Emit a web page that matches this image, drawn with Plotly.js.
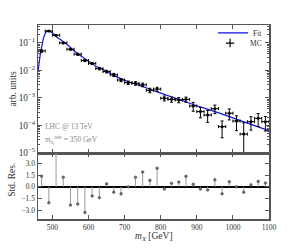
<!DOCTYPE html>
<html><head><meta charset="utf-8">
<script src="https://cdn.plot.ly/plotly-3.0.1.min.js"></script>
<style>html,body{margin:0;padding:0;background:#fff}#chart{width:300px;height:250px}</style>
</head><body><div id="chart"></div>
<script>
// ---- data ----
const binCenters = [470,490,510,530,550,570,590,610,630,650,670,690,710,730,750,770,790,810,830,850,870,890,910,930,950,970,990,1010,1030,1050,1070,1090];
const mcValues = [0.051,0.27,0.19,0.10,0.059,0.039,0.023,0.018,0.0117,0.0091,0.0069,0.0045,0.0036,0.0034,0.0030,0.0019,0.0021,0.00098,0.00089,0.00085,0.00089,0.00051,0.00032,0.00024,0.00041,0.000091,0.00028,0.000145,0.000049,0.000138,0.000182,0.000138];
const mcErrors = [0.005,0.012,0.010,0.006,0.004,0.003,0.002,0.0016,0.0012,0.001,0.0009,0.0006,0.0005,0.0005,0.00045,0.00035,0.00035,0.0002,0.00019,0.00018,0.00019,0.00018,0.00013,0.00011,0.00014,0.000055,0.00012,0.00008,0.000077,0.00007,0.00009,0.000075];
const binHalfWidth = 10;
const fitMass = [460,463,466,470,473,476,480,484,488,492,496,500,508,520,535,550,563,577,591,605,619,646,674,700,750,800,850,900,950,1000,1050,1100];
const fitValues = [0.009,0.018,0.036,0.07,0.11,0.16,0.22,0.265,0.28,0.27,0.25,0.23,0.18,0.138,0.10,0.068,0.048,0.035,0.026,0.0195,0.0146,0.0099,0.0062,0.0044,0.0026,0.0015,0.00089,0.00052,0.00032,0.00019,0.00011,0.000065];
const residuals = [1.35,-2.04,6.0,1.22,-2.33,-2.2,-3.27,-1.18,-1.39,0.37,-0.69,-0.9,0.0,1.22,1.88,0.82,2.37,-0.29,0.45,0.61,1.35,0.33,-0.29,-0.41,0.9,-0.9,0.65,0.0,-0.69,0.24,0.69,0.49];
const resTickVals = [-3,-1.5,0,1.5,3];
const resTickText = ['\u22123.0','\u22121.5','0.0','1.5','3.0'];
const xTickVals = [500,600,700,800,900,1000,1100];

// ---- build stems from residual arrays ----
const stemX = [], stemY = [];
binCenters.forEach((x,i)=>{ stemX.push(x,x,null); stemY.push(0,residuals[i],null); });

const FONT = 'Liberation Serif, Times New Roman, serif';
const AX = '#555';

const traces = [
  {x: fitMass, y: fitValues, xaxis:'x', yaxis:'y', mode:'lines', name:'Fit', legend:'legend',
   line:{color:'#1010e0', width:1.2, shape:'spline'}},
  {x: binCenters, y: mcValues, xaxis:'x', yaxis:'y', mode:'markers', name:'MC', showlegend:false,
   marker:{color:'black', size:3},
   error_y:{type:'data', array: mcErrors, color:'black', thickness:1, width:1.5},
   error_x:{type:'constant', value: binHalfWidth, color:'black', thickness:1, width:1.5}},
  {x:[null], y:[null], xaxis:'x', yaxis:'y', mode:'markers', name:'MC', legend:'legend2',
   marker:{symbol:'cross-thin-open', size:6, color:'black', line:{color:'black', width:1.2}}},
  {x: stemX, y: stemY, xaxis:'x2', yaxis:'y2', mode:'lines', showlegend:false,
   line:{color:'#999', width:1}},
  {x: binCenters, y: residuals, xaxis:'x2', yaxis:'y2', mode:'markers', showlegend:false,
   marker:{color:'#777', size:2.6, line:{color:'#333', width:0.5}}}
];

const axCommon = {showline:true, linecolor:AX, linewidth:1.5, mirror:'ticks', ticks:'inside',
  ticklen:4, tickwidth:1, tickcolor:AX, showgrid:false, zeroline:false,
  tickfont:{family:FONT, size:7.5, color:'#333'}};

const layout = {
  width:300, height:250,
  margin:{l:38, r:31, t:25, b:31},
  paper_bgcolor:'white', plot_bgcolor:'white',
  font:{family:FONT, size:7, color:'#333'},
  xaxis: Object.assign({}, axCommon, {anchor:'y', range:[460,1100], tickvals:xTickVals, showticklabels:false}),
  xaxis2: Object.assign({}, axCommon, {anchor:'y2', matches:'x', range:[460,1100], tickvals:xTickVals, ticklabelstandoff:0}),
  yaxis: Object.assign({}, axCommon, {domain:[0.34,1], type:'log', range:[-5,-0.35], dtick:1,
     exponentformat:'power', showexponent:'all',
     minor:{ticks:'inside', ticklen:2, tickcolor:AX, dtick:'D1'}}),
  yaxis2: Object.assign({}, axCommon, {domain:[0,0.34], range:[-4.1,4.3], tickvals:resTickVals, ticktext:resTickText,
     zeroline:true, zerolinecolor:'black', zerolinewidth:1.5}),
  legend:{x:0.758, y:0.959, xanchor:'left', yanchor:'middle', bgcolor:'rgba(0,0,0,0)', font:{family:FONT, size:7.5, color:'#333'}},
  legend2:{x:0.745, y:0.907, xanchor:'left', yanchor:'middle', bgcolor:'rgba(0,0,0,0)', font:{family:FONT, size:7.5, color:'#333'}},
  annotations:[
    {text:'arb. units', xref:'paper', yref:'paper', x:-0.11, y:0.67, textangle:-90, showarrow:false, xanchor:'center', yanchor:'middle', font:{family:FONT, size:9.5, color:'#333'}},
    {text:'Std. Res.', xref:'paper', yref:'paper', x:-0.11, y:0.2, textangle:-90, showarrow:false, xanchor:'center', yanchor:'middle', font:{family:FONT, size:9.5, color:'#333'}},
    {text:'<i>m</i><sub><i>X</i></sub> [GeV]', xref:'paper', yref:'paper', x:0.5, y:-0.088, showarrow:false, xanchor:'center', yanchor:'middle', font:{family:FONT, size:9.5, color:'#333'}},
    {text:'LHC @ 13 TeV', xref:'paper', yref:'paper', x:0.023, y:0.479, showarrow:false, xanchor:'left', yanchor:'middle', font:{family:FONT, size:7.5, color:'#888'}},
    {text:'<i>m</i><sub><i>h</i><sub>s</sub></sub><sup>test</sup> = 350 GeV', xref:'paper', yref:'paper', x:0.023, y:0.407, showarrow:false, xanchor:'left', yanchor:'middle', font:{family:FONT, size:7.5, color:'#888'}}
  ]
};

Plotly.newPlot('chart', traces, layout, {staticPlot:true, displayModeBar:false});
</script>
</body></html>
